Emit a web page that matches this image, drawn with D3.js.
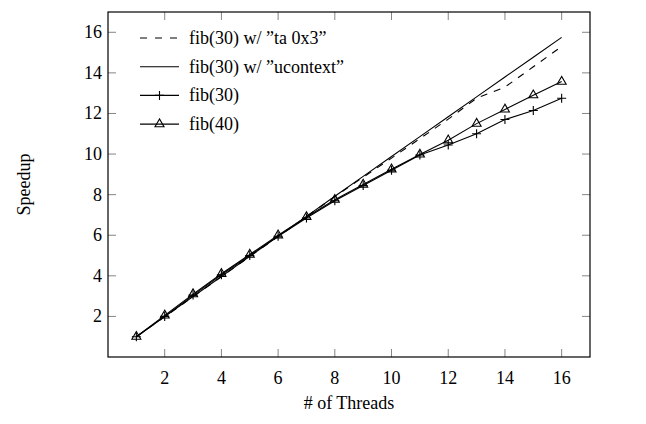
<!DOCTYPE html>
<html>
<head>
<meta charset="utf-8">
<script src="https://cdn.jsdelivr.net/npm/d3@7"></script>
<style>
    body { margin: 0; background: #fff; }
    svg text { font-family: "Liberation Serif", "DejaVu Serif", serif; fill: #000; }
</style>
</head>
<body>
<svg id="chart" width="646" height="424"></svg>
<script>
// data
var threads = [1, 2, 3, 4, 5, 6, 7, 8, 9, 10, 11, 12, 13, 14, 15, 16];
var ta0x3 = [1, 1.98, 2.97, 3.96, 4.95, 5.93, 6.92, 7.9, 8.86, 9.8, 10.76, 11.72, 12.75, 13.3, 14.3, 15.3];
var ucontext = [1, 1.99, 2.98, 3.97, 4.96, 5.95, 6.93, 7.92, 8.9, 9.88, 10.86, 11.84, 12.82, 13.8, 14.77, 15.75];
var fib30 = [1, 2.0, 3.05, 4.05, 5.0, 5.95, 6.85, 7.7, 8.45, 9.2, 9.95, 10.45, 11.0, 11.7, 12.15, 12.75];
var fib40 = [1, 2.05, 3.1, 4.1, 5.05, 6.0, 6.9, 7.75, 8.5, 9.25, 9.98, 10.68, 11.5, 12.2, 12.9, 13.57];
var xTicks = [2, 4, 6, 8, 10, 12, 14, 16];
var yTicks = [2, 4, 6, 8, 10, 12, 14, 16];

var series = [
    { name: 'fib(30) w/ \u201dta 0x3\u201d', values: ta0x3, dash: '7,7', mark: null },
    { name: 'fib(30) w/ \u201ducontext\u201d', values: ucontext, dash: null, mark: null },
    { name: 'fib(30)', values: fib30, dash: null, mark: 'plus' },
    { name: 'fib(40)', values: fib40, dash: null, mark: 'triangle' }
];

var svg = d3.select('#chart');
// note: "top" is taken by window.top, so use plot* names
var plotLeft = 108, plotRight = 590, plotTop = 12, plotBottom = 357;
var fontSize = 18, tickLen = 8;

var x = d3.scaleLinear().domain([0, 17]).range([plotLeft, plotRight]);
var y = d3.scaleLinear().domain([0, 17]).range([plotBottom, plotTop]);

// ticks, inside on all four sides
var ticks = svg.append('g')
    .attr('stroke', '#777')
    .attr('stroke-width', 0.9);

xTicks.forEach(function(t) {
    ticks.append('line').attr('x1', x(t)).attr('x2', x(t)).attr('y1', plotBottom).attr('y2', plotBottom - tickLen);
    ticks.append('line').attr('x1', x(t)).attr('x2', x(t)).attr('y1', plotTop).attr('y2', plotTop + tickLen);
});
yTicks.forEach(function(t) {
    ticks.append('line').attr('y1', y(t)).attr('y2', y(t)).attr('x1', plotLeft).attr('x2', plotLeft + tickLen);
    ticks.append('line').attr('y1', y(t)).attr('y2', y(t)).attr('x1', plotRight).attr('x2', plotRight - tickLen);
});

svg.append('g').selectAll('text')
    .data(xTicks)
    .enter()
    .append('text')
    .attr('x', function(d) { return x(d); })
    .attr('y', plotBottom + 27)
    .attr('text-anchor', 'middle')
    .attr('font-size', fontSize)
    .text(function(d) { return d; });

svg.append('g').selectAll('text')
    .data(yTicks)
    .enter()
    .append('text')
    .attr('x', plotLeft - 6)
    .attr('y', function(d) { return y(d) + 6; })
    .attr('text-anchor', 'end')
    .attr('font-size', fontSize)
    .text(function(d) { return d; });

// frame
svg.append('rect')
    .attr('x', plotLeft)
    .attr('y', plotTop)
    .attr('width', plotRight - plotLeft)
    .attr('height', plotBottom - plotTop)
    .attr('fill', 'none')
    .attr('stroke', '#000')
    .attr('stroke-width', 1.2);

var line = d3.line()
    .x(function(d, i) { return x(threads[i]); })
    .y(function(d) { return y(d); });

function drawMark(g, kind, cx, cy) {
    if (kind === 'plus') {
        g.append('path')
            .attr('d', 'M' + (cx - 4.5) + ',' + cy + 'H' + (cx + 4.5) + 'M' + cx + ',' + (cy - 4.5) + 'V' + (cy + 4.5))
            .attr('stroke', '#000')
            .attr('stroke-width', 1.1)
            .attr('fill', 'none');
    } else if (kind === 'triangle') {
        var r = 5.2;
        var pts = [[cx, cy - r], [cx - r * 0.866, cy + r / 2], [cx + r * 0.866, cy + r / 2]];
        g.append('path')
            .attr('d', 'M' + pts.join('L') + 'Z')
            .attr('stroke', '#000')
            .attr('stroke-width', 1.1)
            .attr('fill', 'none');
    }
}

var plot = svg.append('g');
series.forEach(function(s) {
    plot.append('path')
        .datum(s.values)
        .attr('d', line)
        .attr('fill', 'none')
        .attr('stroke', '#000')
        .attr('stroke-width', 1.1)
        .attr('stroke-dasharray', s.dash);
    if (s.mark) {
        s.values.forEach(function(v, i) {
            drawMark(plot, s.mark, x(threads[i]), y(v));
        });
    }
});

// legend, no border
var legend = svg.append('g');
series.forEach(function(s, i) {
    var ly = 38 + i * 28.7;
    legend.append('line')
        .attr('x1', 140).attr('x2', 179)
        .attr('y1', ly).attr('y2', ly)
        .attr('stroke', '#000')
        .attr('stroke-width', 1.1)
        .attr('stroke-dasharray', s.dash ? '7,8' : null);
    if (s.mark) drawMark(legend, s.mark, 159.5, ly);
    legend.append('text')
        .attr('x', 189)
        .attr('y', ly + 6)
        .attr('font-size', fontSize)
        .text(s.name);
});

svg.append('text')
    .attr('transform', 'translate(30,' + ((plotTop + plotBottom) / 2) + ') rotate(-90)')
    .attr('text-anchor', 'middle')
    .attr('font-size', fontSize)
    .text('Speedup');

svg.append('text')
    .attr('x', (plotLeft + plotRight) / 2)
    .attr('y', 409)
    .attr('text-anchor', 'middle')
    .attr('font-size', fontSize)
    .text('# of Threads');
</script>
</body>
</html>
